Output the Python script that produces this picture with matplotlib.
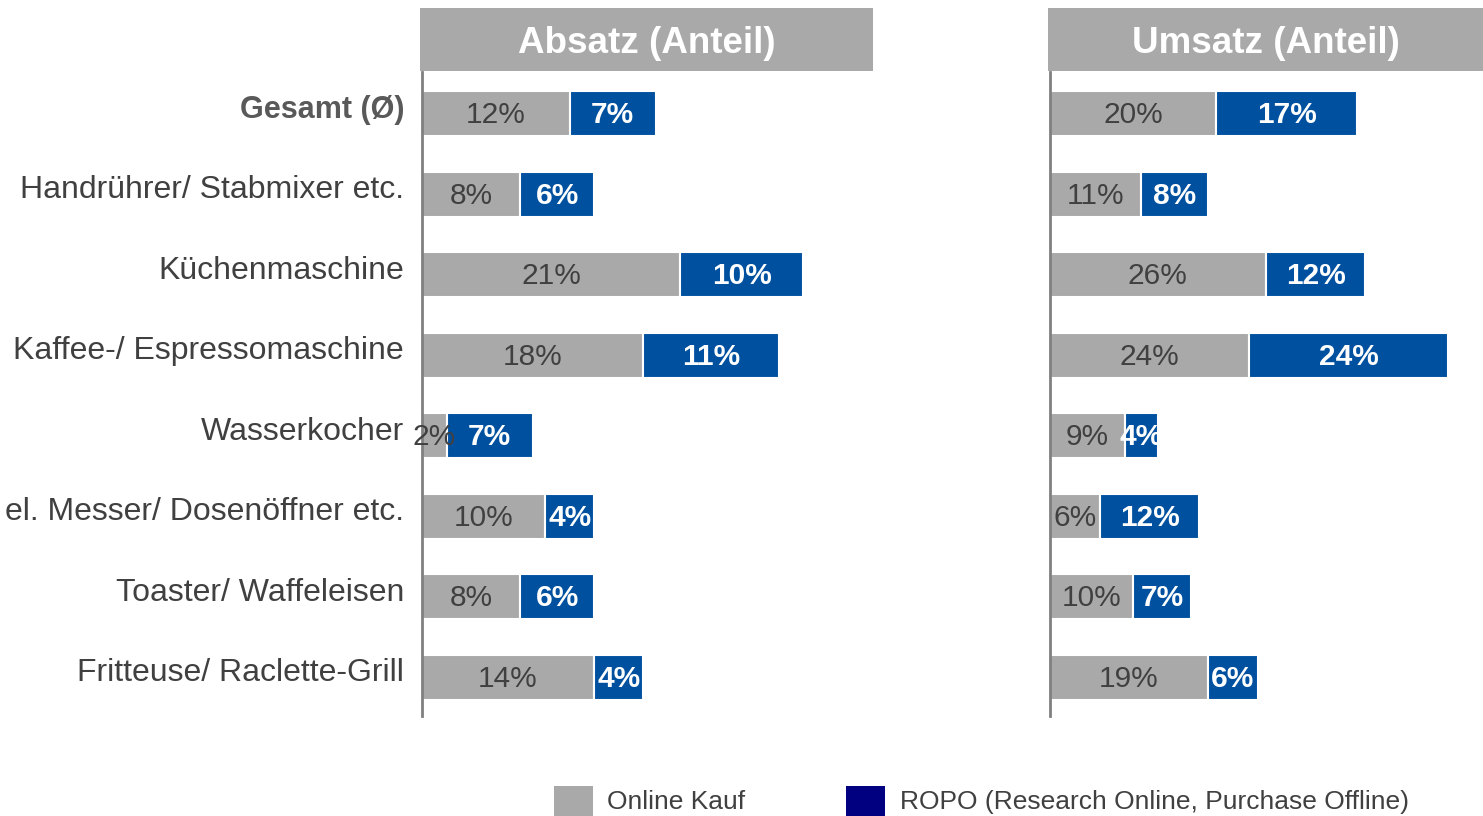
import matplotlib
matplotlib.use("Agg")
import matplotlib.pyplot as plt
from matplotlib.patches import Rectangle

plt.rcParams['font.family'] = ['Liberation Sans', 'DejaVu Sans']

categories = ["Gesamt (Ø)", "Handrührer/ Stabmixer etc.", "Küchenmaschine",
              "Kaffee-/ Espressomaschine", "Wasserkocher", "el. Messer/ Dosenöffner etc.",
              "Toaster/ Waffeleisen", "Fritteuse/ Raclette-Grill"]
online_absatz = [12, 8, 21, 18, 2, 10, 8, 14]
ropo_absatz = [7, 6, 10, 11, 7, 4, 6, 4]
online_umsatz = [20, 11, 26, 24, 9, 6, 10, 19]
ropo_umsatz = [17, 8, 12, 24, 4, 12, 7, 6]
titles = ["Absatz (Anteil)", "Umsatz (Anteil)"]
legend_labels = ["Online Kauf", "ROPO (Research Online, Purchase Offline)"]

GREY = '#A9A9A9'
BLUE = '#0050A0'
NAVY = '#000080'
TXT = '#404040'

W, H = 1483, 816
fig = plt.figure(figsize=(W / 100, H / 100), dpi=100)


def px(x0, y0, w, h):
    # pixel box (top-left origin) -> figure fraction
    return [x0 / W, (H - y0 - h) / H, w / W, h / H]


def panel(rect, xmax, online, ropo):
    ax = fig.add_axes(rect)
    y = list(range(len(online)))
    ax.barh(y, online, height=0.56, color=GREY, edgecolor='white', linewidth=1.5)
    ax.barh(y, ropo, left=online, height=0.56, color=BLUE, edgecolor='white', linewidth=1.5)
    for i in y:
        ax.text(online[i] / 2, i + 0.02, f"{online[i]}%", ha='center', va='center',
                fontsize=21.5, color=TXT)
        ax.text(online[i] + ropo[i] / 2, i + 0.02, f"{ropo[i]}%", ha='center', va='center',
                fontsize=21.5, color='white', fontweight='bold')
    ax.set_xlim(0, xmax)
    ax.set_ylim(7.48, -0.52)
    for s in ['top', 'right', 'bottom']:
        ax.spines[s].set_visible(False)
    ax.spines['left'].set_color('#808080')
    ax.spines['left'].set_linewidth(2)
    ax.set_xticks([])
    ax.set_yticks([])
    return ax


ax1 = panel(px(422, 72, 451, 644), 451 / 12.3, online_absatz, ropo_absatz)
ax2 = panel(px(1050, 72, 433, 644), 433 / 8.3, online_umsatz, ropo_umsatz)

for i, cat in enumerate(categories):
    ax1.text(-18 / 451, i - 0.05, cat, transform=ax1.get_yaxis_transform(),
             ha='right', va='center', fontsize=23 if i else 22,
             color='#595959' if i == 0 else TXT,
             fontweight='bold' if i == 0 else 'normal')

# header boxes
for rect, title in zip([px(420, 8, 453, 63), px(1048, 8, 435, 63)], titles):
    hx = fig.add_axes(rect)
    hx.set_facecolor(GREY)
    hx.set_xticks([])
    hx.set_yticks([])
    for s in hx.spines.values():
        s.set_visible(False)
    hx.text(0.5, 0.44, title, ha='center', va='center', fontsize=26.5,
            color='white', fontweight='bold', transform=hx.transAxes)

# legend
for x0, col, x_txt, lab in zip([554, 846], [GREY, NAVY], [607, 900], legend_labels):
    fig.add_artist(Rectangle((x0 / W, 0), 39 / W, 30 / H, transform=fig.transFigure,
                             facecolor=col, edgecolor='none'))
    fig.text(x_txt / W, (H - 802) / H, lab, ha='left', va='center', fontsize=19,
             color=TXT, family=['Liberation Sans Narrow', 'Liberation Sans'])

fig.savefig("out.png", dpi=100)
